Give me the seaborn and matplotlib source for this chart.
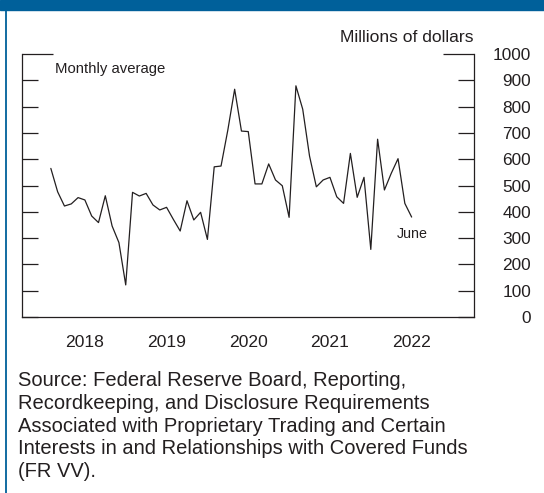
import numpy as np
import pandas as pd
import matplotlib.pyplot as plt
import seaborn as sns
from matplotlib.patches import Rectangle
from matplotlib.lines import Line2D

# monthly averages, millions of dollars (Jan 2018 - Jun 2022)
vals_2018 = [565, 476, 422, 430, 454, 445, 384, 359, 461, 346, 283, 122]
vals_2019 = [474, 460, 470, 426, 407, 417, 371, 327, 442, 369, 398, 295]
vals_2020 = [571, 574, 711, 866, 707, 705, 506, 506, 582, 521, 499, 379]
vals_2021 = [879, 790, 612, 495, 521, 531, 457, 432, 622, 455, 531, 257]
vals_2022 = [676, 483, 546, 602, 432, 380]

year_labels = ['2018', '2019', '2020', '2021', '2022']
year_ticks = [2018, 2019, 2020, 2021, 2022, 2023]
y_ticks = [0, 100, 200, 300, 400, 500, 600, 700, 800, 900, 1000]

values = vals_2018 + vals_2019 + vals_2020 + vals_2021 + vals_2022
months = np.arange(1, len(values) + 1)
df = pd.DataFrame({'date': 2018 + months / 12, 'value': values})

sns.set_style('white')
plt.rcParams['font.family'] = ['Liberation Sans', 'DejaVu Sans']

ink = '#231f20'
blue = '#00609a'

W, H = 544, 493
fig = plt.figure(figsize=(W / 100, H / 100), dpi=100)
ax = fig.add_axes([22.3 / W, 176 / H, (474.3 - 22.3) / W, (317 - 54) / H])

sns.lineplot(data=df, x='date', y='value', color=ink, linewidth=0.9, ax=ax)

ax.set_xlim(2017.734, 2023.267)
ax.set_ylim(0, 1000)
ax.set_xlabel('')
ax.set_ylabel('')

ax.spines['top'].set_visible(False)
for s in ['left', 'right', 'bottom']:
    ax.spines[s].set_color(ink)
    ax.spines[s].set_linewidth(0.9)

# x axis: year ticks inside, labels centred between them
ax.set_xticks(year_ticks)
ax.set_xticklabels([])
ax.set_xticks([int(y) + 0.5 for y in year_labels], minor=True)
ax.set_xticklabels(year_labels, minor=True)
ax.tick_params(axis='x', which='major', direction='in', length=11.5, width=0.9, color=ink)
ax.tick_params(axis='x', which='minor', length=0, pad=13, labelsize=12.6, labelcolor=ink)

# y axis: ticks on both sides, labels on the right
ax.set_yticks(y_ticks)
ax.tick_params(axis='y', left=True, right=True, labelleft=False, labelright=True,
               direction='in', length=11.5, width=0.9, color=ink, pad=41,
               labelsize=12.4, labelcolor=ink)
ticks = ax.yaxis.get_major_ticks()
for t in ticks:
    t.label2.set_horizontalalignment('right')
ticks[-1].tick1line.set_markersize(22.5)
ticks[-1].tick2line.set_markersize(22.5)

ax.text((55 - 22.3) / 452, (317 - 69) / 263, 'Monthly average', transform=ax.transAxes,
        ha='left', va='center', fontsize=10.7, color=ink)
ax.text((396.7 - 22.3) / 452, (317 - 234) / 263, 'June', transform=ax.transAxes,
        ha='left', va='center', fontsize=10.3, color=ink)

fig.text(474 / W, 1 - 38 / H, 'Millions of dollars', ha='right', va='center',
         fontsize=12.6, color=ink)

source = ('Source: Federal Reserve Board, Reporting,\n'
          'Recordkeeping, and Disclosure Requirements\n'
          'Associated with Proprietary Trading and Certain\n'
          'Interests in and Relationships with Covered Funds\n'
          '(FR VV).')
fig.text(18 / W, 1 - 371 / H, source, ha='left', va='top', fontsize=14.5,
         linespacing=1.25, color=ink)

# frame: blue band on top, thin blue rule at the left
fig.patches.append(Rectangle((0, 1 - 9.5 / H), 1, 9.5 / H, transform=fig.transFigure,
                             color=blue, zorder=0))
fig.lines.append(Line2D([5.7 / W, 5.7 / W], [0, 1], transform=fig.transFigure,
                        color=blue, linewidth=1.3))

fig.savefig('out.png', dpi=100)
